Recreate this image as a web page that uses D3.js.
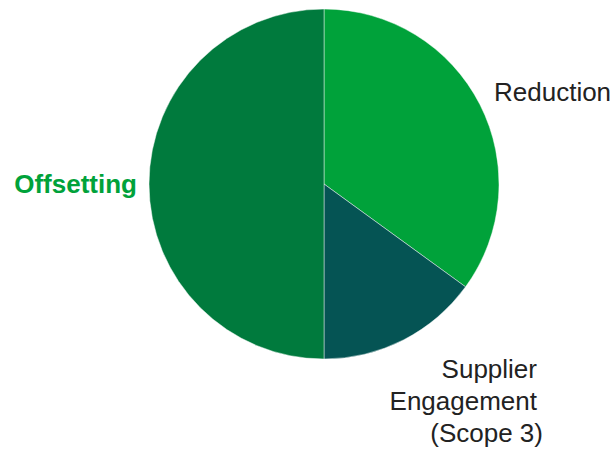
<!DOCTYPE html>
<html><head><meta charset="utf-8">
<script src="https://cdn.jsdelivr.net/npm/d3@7"></script>
<style>body{margin:0;background:#fff}svg{display:block}</style>
</head><body>
<svg id="c" width="616" height="449"></svg>
<script>
const categories = ["Reduction", "Supplier Engagement (Scope 3)", "Offsetting"];
const values = [35, 15, 50];
const colors = ["#00a23a", "#055454", "#007a3d"];

const svg = d3.select("#c");
const cx = 324, cy = 184, r = 175;
const g = svg.append("g").attr("transform", `translate(${cx},${cy})`);
const pie = d3.pie().sort(null).value(d => d.v);
const arc = d3.arc().innerRadius(0).outerRadius(r);
const data = pie(categories.map((c, i) => ({c, v: values[i], col: colors[i]})));
g.selectAll("path").data(data).join("path")
  .attr("d", arc).attr("fill", d => d.data.col)
  .attr("stroke", "rgba(255,255,255,0.45)").attr("stroke-width", 1);

const font = "Liberation Sans, Arial, sans-serif";
svg.append("text").attr("x", 494).attr("y", 101).attr("font-family", font)
  .attr("font-size", 26).attr("fill", "#222").text(categories[0]);
svg.append("text").attr("x", 137).attr("y", 193).attr("text-anchor", "end")
  .attr("font-family", font).attr("font-size", 26).attr("font-weight", "bold")
  .attr("fill", "#00a23a").text(categories[2]);
const lines = [["Supplier", 537, 378], ["Engagement", 537, 410], ["(Scope 3)", 543, 442]];
lines.forEach(([t, x, y]) => svg.append("text").attr("x", x).attr("y", y)
  .attr("text-anchor", "end").attr("font-family", font).attr("font-size", 26)
  .attr("fill", "#222").text(t));
</script>
</body></html>
